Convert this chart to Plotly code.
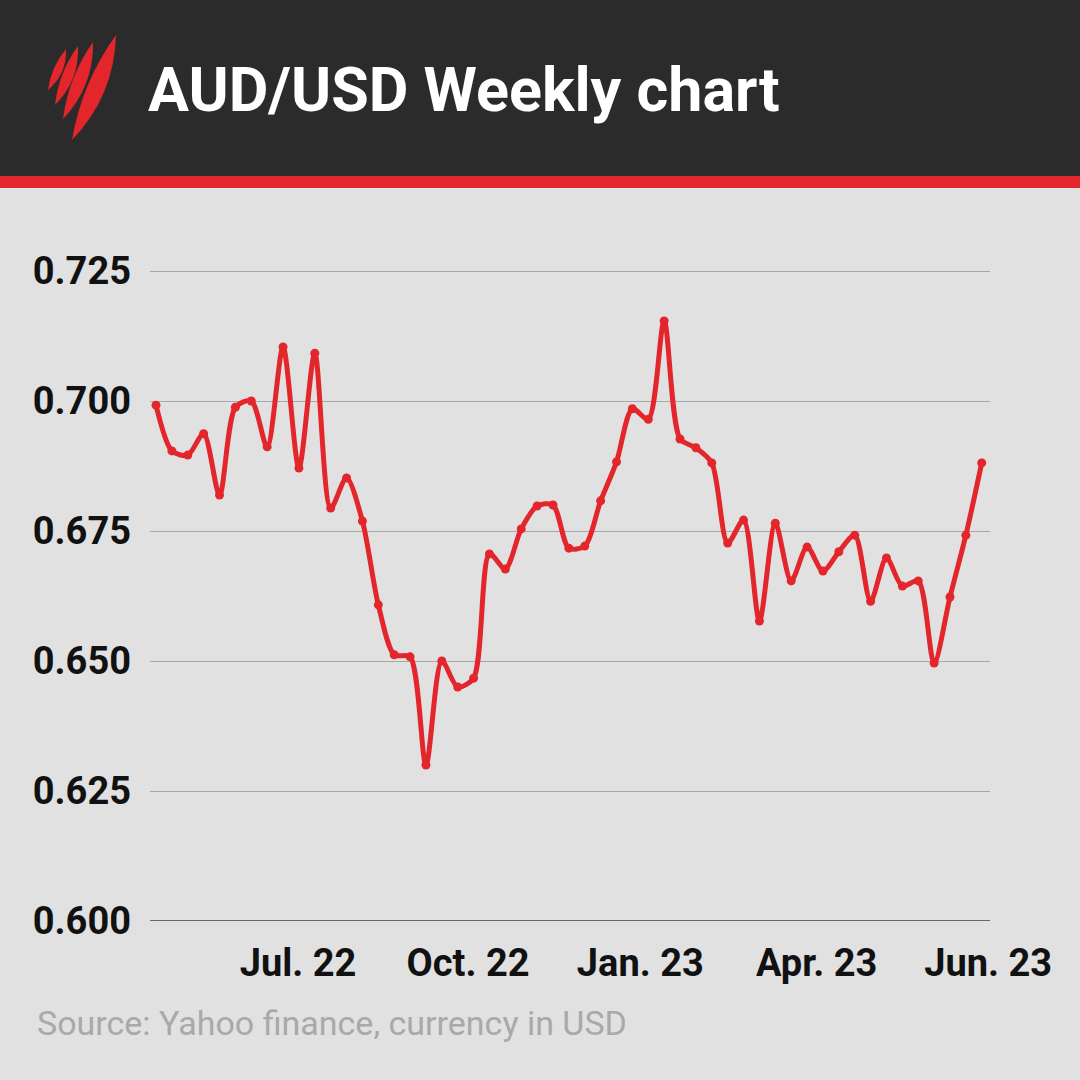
import plotly.graph_objects as go

# ---- data (weekly AUD/USD closes) ----
week_index = list(range(53))
aud_usd = [
    0.6992, 0.6904, 0.6896, 0.6937, 0.6819, 0.6988, 0.7000, 0.6912, 0.7104, 0.6871,
    0.7092, 0.6794, 0.6852, 0.6769, 0.6608, 0.6512, 0.6508, 0.6300, 0.6500, 0.6450,
    0.6467, 0.6706, 0.6677, 0.6754, 0.6798, 0.6800, 0.6717, 0.6721, 0.6808, 0.6883,
    0.6985, 0.6965, 0.7154, 0.6927, 0.6910, 0.6881, 0.6727, 0.6771, 0.6577, 0.6765,
    0.6654, 0.6719, 0.6673, 0.6710, 0.6742, 0.6615, 0.6698, 0.6644, 0.6654, 0.6496,
    0.6623, 0.6742, 0.6881,
]
x_tick_labels = ["Jul. 22", "Oct. 22", "Jan. 23", "Apr. 23", "Jun. 23"]
y_tick_values = [0.600, 0.625, 0.650, 0.675, 0.700, 0.725]

W, H = 1080, 1080
L, R, T, B = 150, 990, 219, 921  # plot area in pixels

def px(x):
    return (x - L) / (R - L)

def py(y):
    return (B - y) / (B - T)

RED = "#e3262b"

fig = go.Figure()
fig.add_trace(go.Scatter(
    x=week_index, y=aud_usd, mode="lines+markers",
    line=dict(color=RED, width=5, shape="spline", smoothing=0.8),
    marker=dict(color=RED, size=9),
    hoverinfo="x+y",
))

shapes = [
    dict(type="rect", xref="paper", yref="paper", x0=px(0), x1=px(W), y0=py(176), y1=py(0),
         fillcolor="#2b2b2b", line=dict(width=0), layer="below"),
    dict(type="rect", xref="paper", yref="paper", x0=px(0), x1=px(W), y0=py(188), y1=py(176),
         fillcolor="#e3262b", line=dict(width=0), layer="below"),
    dict(type="line", xref="paper", yref="y", x0=0, x1=1, y0=0.600, y1=0.600,
         line=dict(color="#666666", width=2)),
]

# SBS-style logo: four slanted overlapping leaves
leaves = [((66, 49), (48, 90), 11), ((78, 46), (55, 105), 14), ((93, 42), (63, 119), 17), ((116, 35), (72, 140), 22)]
for (tx, ty), (bx, by), w in leaves:
    mx, my = (tx + bx) / 2, (ty + by) / 2
    dx, dy = tx - bx, ty - by
    n = (dx * dx + dy * dy) ** 0.5
    nx, ny = -dy / n, dx / n
    c1 = (mx + nx * w, my + ny * w)
    c2 = (mx - nx * w * 0.6, my - ny * w * 0.6)
    path = (f"M {px(tx)} {py(ty)} Q {px(c1[0])} {py(c1[1])} {px(bx)} {py(by)} "
            f"Q {px(c2[0])} {py(c2[1])} {px(tx)} {py(ty)} Z")
    shapes.append(dict(type="path", xref="paper", yref="paper", path=path,
                       fillcolor="#e3262b", line=dict(width=0)))

annotations = [
    dict(text="<b>AUD/USD Weekly chart</b>", xref="paper", yref="paper", x=px(146), y=py(90),
         xanchor="left", yanchor="middle", showarrow=False,
         font=dict(family="Roboto", size=61, color="white")),
    dict(text="Source: Yahoo finance, currency in USD", xref="paper", yref="paper",
         x=px(35), y=py(1023), xanchor="left", yanchor="middle", showarrow=False,
         font=dict(family="Roboto", size=34, color="#a9a9a9")),
]

fig.update_layout(
    width=W, height=H,
    margin=dict(l=L, r=W - R, t=T, b=H - B),
    paper_bgcolor="#e1e1e1", plot_bgcolor="#e1e1e1",
    showlegend=False,
    shapes=shapes, annotations=annotations,
    xaxis=dict(
        range=[-0.378, 52.52], showgrid=False, zeroline=False, showline=False,
        tickmode="array", tickvals=[8.94, 19.65, 30.5, 41.6, 52.4],
        ticktext=[f"<b>{t}</b>" for t in x_tick_labels],
        tickfont=dict(family="Roboto", size=38, color="#111111"),
        ticks="", ticklabelstandoff=16,
    ),
    yaxis=dict(
        range=[0.600, 0.735], showgrid=True, gridcolor="#a8a8a8", gridwidth=1,
        zeroline=False, showline=False,
        tickmode="array", tickvals=y_tick_values,
        ticktext=[f"<b>{v:.3f}</b>" for v in y_tick_values],
        tickfont=dict(family="Roboto", size=38, color="#111111"),
        ticks="", ticklabelstandoff=18,
    ),
)

fig.write_html("out.html", config={"displayModeBar": False},
               post_script="document.body.style.margin='0';document.body.style.padding='0';")
